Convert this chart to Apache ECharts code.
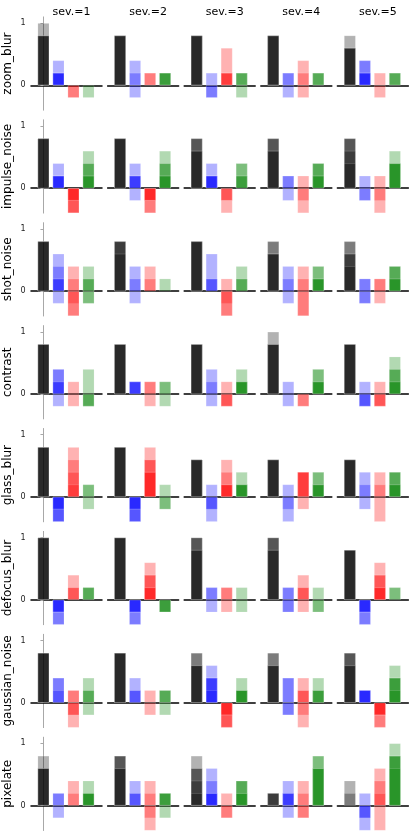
<!DOCTYPE html>
<html>
<head>
<meta charset="utf-8">
<script src="https://cdn.jsdelivr.net/npm/echarts@6/dist/echarts.min.js"></script>
<style>html,body{margin:0;padding:0;background:#fff}#c{width:415px;height:835px}</style>
</head>
<body>
<div id="c"></div>
<script>
// rows (corruptions) and columns (severities)
const corruptions = ['zoom_blur','impulse_noise','shot_noise','contrast','glass_blur','defocus_blur','gaussian_noise','pixelate'];
const severities = ['sev.=1','sev.=2','sev.=3','sev.=4','sev.=5'];
const barColors = ['#000000','#0000ff','#ff0000','#008000'];
const yTicks = [0, 1];

// each severity: [black runs], [blue runs], [red runs], [green runs]; five runs per bar
const zoom_blur = [
 [[1,.8,.8,.8,.8],[.4,.2,.2,.2,.2],[-.2,-.2,0,0,0],[-.2,0,0,0,0]],
 [[.8,.8,.8,.8,.8],[.4,.2,0,0,-.2],[.2,.2,0,0,0],[.2,.2,.2,.2,0]],
 [[.8,.8,.8,.8,.8],[.2,0,0,-.2,-.2],[.6,.2,.2,.2,0],[.2,.2,.2,0,-.2]],
 [[.8,.8,.8,.8,.8],[.2,.2,0,0,-.2],[.4,.2,0,0,-.2],[.2,.2,.2,0,0]],
 [[.8,.6,.6,.6,.6],[.4,.4,.2,.2,.2],[.2,-.2,0,0,0],[.2,.2,.2,0,0]]
];
const impulse_noise = [
 [[.8,.8,.8,.8,.8],[.4,.2,.2,.2,.2],[-.4,-.4,-.4,-.2,-.2],[.6,.4,.4,.2,.2]],
 [[.8,.8,.8,.8,.8],[.4,.2,.2,.2,-.2],[-.4,-.4,-.2,-.2,-.2],[.6,.4,.4,.2,.2]],
 [[.8,.8,.8,.6,.6],[.4,.2,.2,.2,.2],[-.4,-.2,-.2,0,0],[.4,.4,.2,.2,0]],
 [[.8,.8,.8,.6,.6],[.2,.2,0,0,-.2],[.2,0,0,-.2,-.4],[.4,.4,.4,.2,.2]],
 [[.8,.8,.8,.6,.4],[.2,0,0,-.2,-.2],[.2,0,0,-.2,-.4],[.6,.4,.4,.4,.4]]
];
const shot_noise = [
 [[.8,.8,.8,.8,.8],[.6,.4,.2,.2,-.2],[.4,.2,-.2,-.4,-.4],[.4,.2,.2,-.2,-.2]],
 [[.8,.8,.8,.8,.6],[.4,.2,0,0,-.2],[.4,.2,0,0,0],[.2,0,0,0,0]],
 [[.8,.8,.8,.8,.8],[.6,.2,.2,0,0],[.2,0,-.2,-.4,-.4],[.4,.2,.2,0,0]],
 [[.8,.8,.6,.6,.6],[.4,.2,0,0,-.2],[.4,.2,0,-.4,-.4],[.4,.4,.2,.2,.2]],
 [[.8,.8,.6,.6,.4],[.2,.2,-.2,-.2,0],[.2,.2,-.2,0,0],[.4,.4,.4,.2,.2]]
];
const contrast = [
 [[.8,.8,.8,.8,.8],[.4,.4,.2,.2,-.2],[.2,-.2,0,0,0],[.4,-.2,-.2,-.2,0]],
 [[.8,.8,.8,.8,.8],[.2,.2,.2,.2,0],[.2,.2,-.2,0,0],[.2,.2,-.2,0,0]],
 [[.8,.8,.8,.8,.8],[.4,.2,0,0,-.2],[.2,-.2,-.2,-.2,0],[.4,.2,.2,.2,.2]],
 [[1,.8,.8,.8,.8],[.2,-.2,0,0,0],[-.2,-.2,0,0,0],[.4,.4,.2,.2,.2]],
 [[.8,.8,.8,.8,.8],[.2,-.2,-.2,-.2,0],[.2,-.2,-.2,-.2,0],[.6,.4,.4,.2,.2]]
];
const glass_blur = [
 [[.8,.8,.8,.8,.8],[-.4,-.4,-.4,-.2,-.2],[.8,.6,.4,.2,0],[.2,.2,-.2,0,0]],
 [[.8,.8,.8,.8,.8],[-.4,-.4,-.4,-.2,-.2],[.8,.6,.6,.4,.4],[.2,-.2,-.2,0,0]],
 [[.6,.6,.6,.6,.6],[.2,-.2,-.2,-.4,0],[.6,.4,.2,.2,.2],[.4,.2,.2,.2,.2]],
 [[.6,.6,.6,.6,.6],[.2,-.2,-.4,0,0],[.4,.4,.4,.4,-.2],[.4,.4,.2,.2,.2]],
 [[.6,.6,.6,.6,.6],[.4,.2,-.2,0,0],[.4,.2,-.4,0,0],[.4,.4,.4,.2,.2]]
];
const defocus_blur = [
 [[1,1,1,1,1],[-.4,-.4,-.2,-.2,-.2],[.4,.2,.2,0,0],[.2,.2,.2,0,0]],
 [[1,1,1,1,1],[-.4,-.4,-.2,-.2,-.2],[.6,.4,.4,.2,.2],[-.2,-.2,-.2,-.2,0]],
 [[1,1,1,.8,.8],[.2,.2,-.2,0,0],[.2,.2,-.2,0,0],[.2,-.2,0,0,0]],
 [[1,1,1,.8,.8],[.2,.2,-.2,-.2,0],[.4,.2,.2,-.2,0],[.2,-.2,-.2,0,0]],
 [[.8,.8,.8,.8,.8],[-.4,-.4,-.2,-.2,-.2],[.6,.4,.4,.2,.2],[.2,.2,0,0,0]]
];
const gaussian_noise = [
 [[.8,.8,.8,.8,.8],[.4,.4,.2,0,0],[.2,.2,-.2,-.2,-.4],[.4,.2,.2,-.2,0]],
 [[.8,.8,.8,.8,.8],[.4,.2,.2,0,0],[.2,-.2,0,0,0],[.2,.2,.2,-.2,0]],
 [[.8,.8,.6,.6,.6],[.6,.4,.4,.4,.2],[-.4,-.4,-.4,-.2,-.2],[.4,.2,.2,.2,.2]],
 [[.8,.8,.6,.6,.6],[.4,.4,-.2,-.2,0],[.4,.2,.2,-.2,-.4],[.4,.2,.2,.2,0]],
 [[.8,.8,.8,.6,.6],[.2,.2,.2,.2,.2],[-.4,-.4,-.2,-.2,-.2],[.6,.4,.4,.4,.2]]
];
const pixelate = [
 [[.8,.6,.6,.6,.6],[.2,.2,-.2,0,0],[.4,.2,0,0,0],[.4,.2,.2,.2,.2]],
 [[.8,.8,.8,.6,.6],[.4,.2,.2,0,0],[.4,.2,-.2,-.4,0],[.2,.2,.2,.2,-.2]],
 [[.8,.6,.6,.4,.2],[.6,.4,.2,.2,.2],[.2,-.2,-.2,0,0],[.4,.4,.4,.2,.2]],
 [[.2,.2,.2,.2,0],[.4,.2,.2,.2,-.2],[.4,.2,-.2,-.2,0],[.8,.8,.6,.6,.6]],
 [[.4,.2,0,0,0],[.2,-.2,-.2,-.4,0],[.6,.4,.2,-.4,0],[1,.8,.8,.8,.6]]
];

const tables = [zoom_blur, impulse_noise, shot_noise, contrast, glass_blur, defocus_blur, gaussian_noise, pixelate];

const FONT = 'DejaVu Sans';
const grid = [], xAxis = [], yAxis = [], series = [], graphic = [], title = [];
const L0 = 31, CW = 71, CS = 76.6, T0 = 16.9, RH = 93.3, RS = 102.9;

severities.forEach((s, c) => {
  title.push({text: s, left: L0 + CS*c + CW/2, top: 2, textAlign: 'center',
    textStyle: {fontFamily: FONT, fontSize: 11, fontWeight: 'normal', color: '#000'}});
});

corruptions.forEach((name, r) => {
  graphic.push({type: 'text', x: 8, y: T0 + RS*r + RH/2, rotation: Math.PI/2,
    style: {text: name, font: '12px "DejaVu Sans"', fill: '#000', textAlign: 'center', textVerticalAlign: 'middle'}});
  severities.forEach((s, c) => {
    const g = grid.length;
    grid.push({left: L0 + CS*c, top: T0 + RS*r, width: CW, height: RH, containLabel: false});
    xAxis.push({type: 'value', gridIndex: g, min: -0.83, max: 3.9,
      axisLine: {show: true, onZero: true, lineStyle: {color: '#000', width: 1.5}},
      axisTick: {show: false}, axisLabel: {show: false}, splitLine: {show: false}});
    const first = c === 0;
    yAxis.push({type: 'value', gridIndex: g, min: -0.4, max: 1.1, offset: 3.3,
      axisLine: {show: first, lineStyle: {color: '#a8a8a8', width: 1}},
      axisTick: {show: first, length: 3, customValues: yTicks, lineStyle: {color: '#a8a8a8'}},
      axisLabel: {show: first, customValues: yTicks, margin: 2, fontFamily: FONT, fontSize: 8, color: '#222'},
      splitLine: {show: false}});
    const cell = tables[r][c];
    for (let run = 0; run < 5; run++) {
      const data = [];
      cell.forEach((runs, m) => {
        const v = runs[run];
        if (v !== 0) data.push({value: [m, v], itemStyle: {color: barColors[m]}});
      });
      series.push({type: 'bar', xAxisIndex: g, yAxisIndex: g, data: data,
        barWidth: 11.6, barGap: '-100%',
        itemStyle: {opacity: 0.3, borderColor: '#ffffff', borderWidth: 0.5},
        emphasis: {disabled: true}, silent: true});
    }
  });
});

const chart = echarts.init(document.getElementById('c'), null, {renderer: 'canvas'});
chart.setOption({animation: false, backgroundColor: '#fff', title, grid, xAxis, yAxis, series, graphic});
</script>
</body>
</html>
